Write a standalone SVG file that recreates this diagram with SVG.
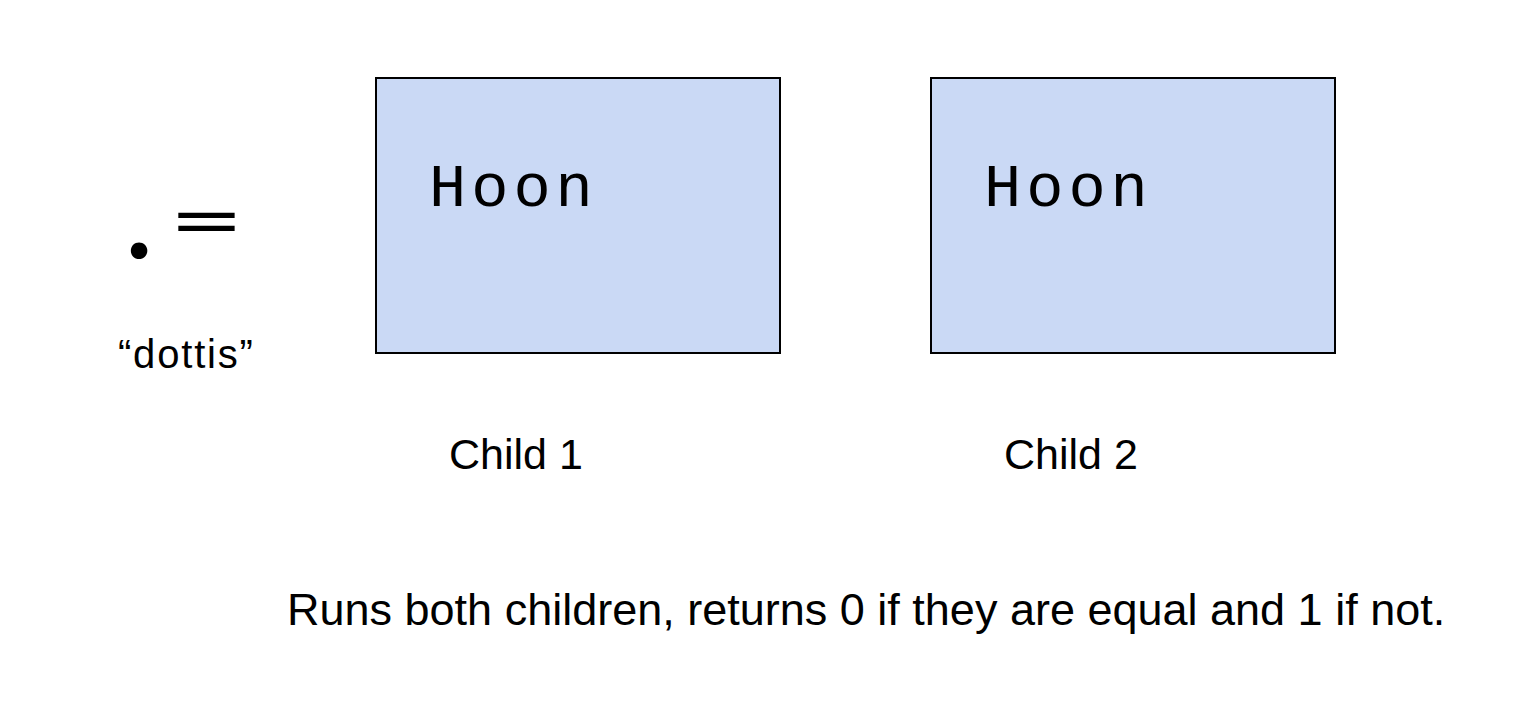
<svg xmlns="http://www.w3.org/2000/svg" width="1522" height="720" viewBox="0 0 1522 720">
<style>
.box{fill:#cad9f5;stroke:#000;stroke-width:2}
.mono{font-family:"Liberation Mono","Courier New",monospace;fill:#000}
.sans{font-family:"Liberation Sans",Arial,sans-serif;fill:#000}
.rune{font-family:Lato,"Liberation Sans",sans-serif;fill:#000}
</style>
<rect width="1522" height="720" fill="#fff"/>
<g id="rune">
<text class="rune" font-size="132" text-anchor="middle"><tspan x="139" y="258">.</tspan></text>
<text class="rune" font-size="100" text-anchor="middle" transform="translate(206.5,0) scale(1.31,0.78)"><tspan x="0" y="317.7">=</tspan></text>
<text class="sans" font-size="40" letter-spacing="1.8" x="118" y="368">“dottis”</text>
</g>
<g id="child1">
<rect class="box" x="376" y="78" width="404" height="275"/>
<text class="mono" font-size="62" letter-spacing="5" x="429" y="206">Hoon</text>
<text class="sans" font-size="43" x="449" y="469">Child 1</text>
</g>
<g id="child2">
<rect class="box" x="931" y="78" width="404" height="275"/>
<text class="mono" font-size="62" letter-spacing="5" x="984" y="206">Hoon</text>
<text class="sans" font-size="43" x="1004" y="469">Child 2</text>
</g>
<g id="connectors"/>
<g id="caption">
<text class="sans" font-size="45" x="287" y="625">Runs both children, returns 0 if they are equal and 1 if not.</text>
</g>
</svg>
